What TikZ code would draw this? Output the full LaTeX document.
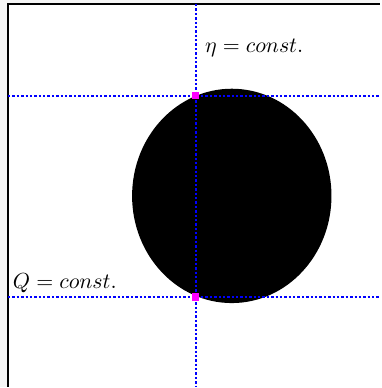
\documentclass[tikz,border=0pt]{standalone}
\usepackage{tikz}
\usetikzlibrary{shapes.geometric}
\definecolor{hitpink}{RGB}{255,0,255}
\begin{document}
\begin{tikzpicture}[x=0.5pt,y=-0.5pt,
  gridline/.style={blue,line width=1.2pt,densely dotted},
  cross/.style={fill=hitpink,inner sep=0pt,minimum size=3.6pt},
  body/.style={ellipse,fill=black,inner sep=0pt,outer sep=0pt,
               minimum width=100pt,minimum height=107.5pt},
  lbl/.style={font=\fontsize{11.3}{13}\selectfont}
]
  % page and frame
  \fill[gray!8] (0,0) rectangle (381,388);
  \fill[white] (8,4) rectangle (381,388);
  \draw[line width=0.6pt] (8,388) -- (8,4) -- (381,4);
  % the body
  \node[body] (blob) at (232.5,196.5) {};
  % coordinate lines
  \coordinate (etatop) at (196.5,4);
  \coordinate (etabot) at (196.5,388);
  \coordinate (qhiL) at (8,96);
  \coordinate (qhiR) at (381,96);
  \coordinate (qloL) at (8,298);
  \coordinate (qloR) at (381,298);
  \draw[gridline] (etatop) -- (etabot);
  \draw[gridline] (qhiL) -- (qhiR);
  \draw[gridline] (qloL) -- (qloR);
  % crossing points
  \node[cross] (hit1) at (196.5,96) {};
  \node[cross] (hit2) at (196.5,298) {};
  % labels
  \node[lbl] (etalbl) at (255,48) {$\eta = const.$};
  \node[lbl] (qlbl) at (65,284) {$Q = const.$};
\end{tikzpicture}
\end{document}
